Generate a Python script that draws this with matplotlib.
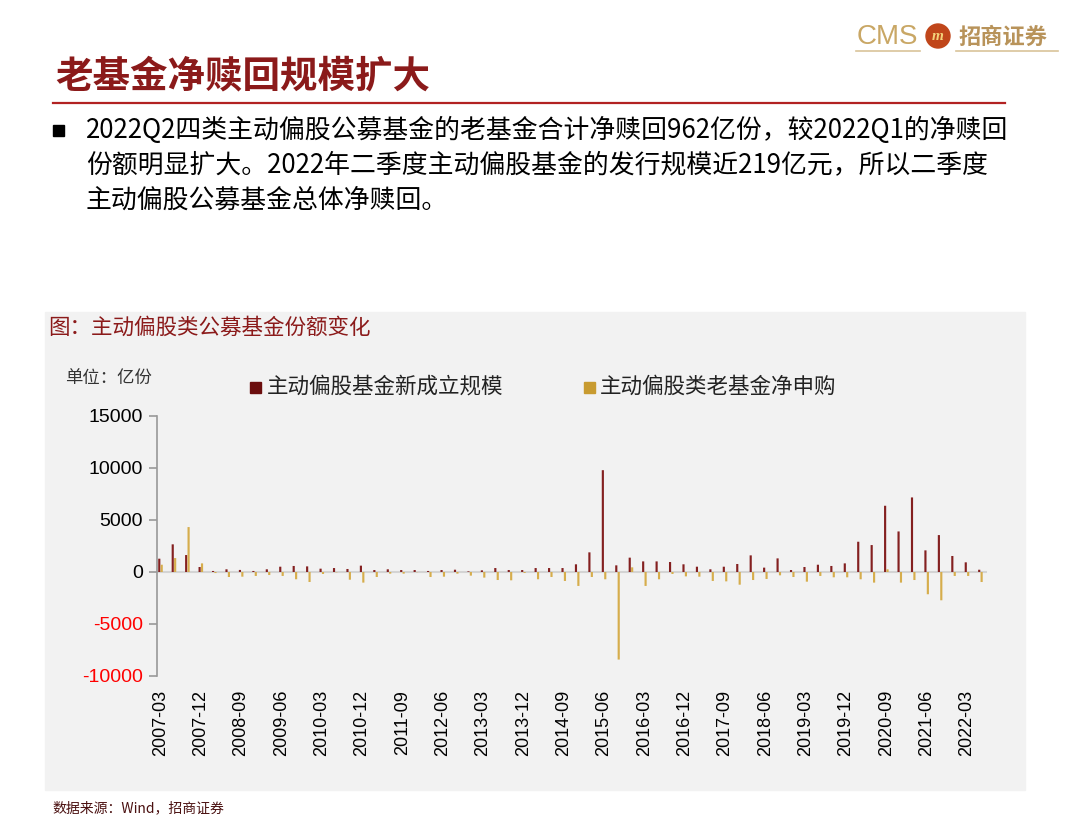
import matplotlib
matplotlib.use("Agg")
import matplotlib.pyplot as plt
from matplotlib.patches import Rectangle, Ellipse
from matplotlib.lines import Line2D
import numpy as np

plt.rcParams['font.family'] = ['Noto Sans CJK SC', 'DejaVu Sans']

# --------------------------------------------------
# Data (亿份), quarterly 2007-03 .. 2022-06
# --------------------------------------------------
quarters = [f"{y}-{m:02d}" for y in range(2007, 2023) for m in (3, 6, 9, 12)][:62]

new_fund = [1280, 2660, 1630, 480, 100, 260, 200, 100, 260, 510,
            580, 540, 320, 380, 290, 610, 190, 260, 190, 190,
            100, 190, 220, 60, 160, 380, 190, 190, 380, 380,
            380, 740, 1890, 9790, 640, 1380, 1020, 1020, 960, 740,
            510, 260, 510, 770, 1600, 420, 1310, 190, 480, 700,
            580, 830, 2910, 2590, 6370, 3900, 7170, 2080, 3550, 1540,
            930, 219]

old_fund = [700, 1340, 4320, 830, -100, -480, -450, -380, -290, -380,
            -700, -960, -190, -30, -740, -1020, -480, -160, -160, -20,
            -480, -450, -160, -350, -540, -770, -800, -90, -700, -480,
            -860, -1340, -480, -700, -8420, 450, -1340, -700, -190, -420,
            -450, -860, -900, -1220, -770, -670, -320, -480, -930, -380,
            -510, -510, -700, -1020, 260, -1020, -770, -2140, -2720, -380,
            -380, -962]

yticks = [-10000, -5000, 0, 5000, 10000, 15000]

RED = "#842020"
GOLD = "#d6ad4c"
TITLE_RED = "#8b1a1a"

fig = plt.figure(figsize=(10.8, 8.27), dpi=100)
W, H = 1080, 827


def fx(px):
    return px / W


def fy(py):
    return 1 - py / H


# --------------------------------------------------
# Header
# --------------------------------------------------
fig.text(fx(857), fy(37), "CMS", fontsize=20, color="#c9a765",
         family=["Liberation Sans Narrow", "Liberation Sans"], va="center", ha="left")
fig.add_artist(Ellipse((fx(938), fy(36)), 24 / W, 24 / H,
                       color="#c0461a", transform=fig.transFigure))
fig.text(fx(938), fy(37), "m", fontsize=11, color="#f3d27a", style="italic",
         fontweight="bold", family=["Liberation Serif"], va="center", ha="center")
fig.text(fx(958), fy(37), "招商证券", fontsize=16, color="#b8935a",
         fontweight="bold", va="center", ha="left")
fig.add_artist(Line2D([fx(856), fx(920)], [fy(51), fy(51)], color="#d9c49a", lw=1.2))
fig.add_artist(Line2D([fx(956), fx(1058)], [fy(51), fy(51)], color="#d9c49a", lw=1.2))

fig.text(fx(55), fy(76), "老基金净赎回规模扩大", fontsize=27, color=TITLE_RED,
         fontweight="bold", va="center", ha="left")
fig.add_artist(Line2D([fx(53), fx(1005)], [fy(103), fy(103)], color="#b22222", lw=1.6))

fig.add_artist(Rectangle((fx(53), fy(136)), 11 / W, 11 / H, color="black",
                         transform=fig.transFigure))
body = ["2022Q2四类主动偏股公募基金的老基金合计净赎回962亿份，较2022Q1的净赎回",
        "份额明显扩大。2022年二季度主动偏股基金的发行规模近219亿元，所以二季度",
        "主动偏股公募基金总体净赎回。"]
for i, line in enumerate(body):
    fig.text(fx(86), fy(130 + 35 * i), line, fontsize=18.6, color="black",
             va="center", ha="left")

# --------------------------------------------------
# Chart panel
# --------------------------------------------------
fig.add_artist(Rectangle((fx(45), fy(790)), 980 / W, 478 / H, color="#f2f2f2",
                         transform=fig.transFigure, zorder=0))
fig.text(fx(48), fy(328), "图：主动偏股类公募基金份额变化", fontsize=15.5,
         color=TITLE_RED, va="center", ha="left")
fig.text(fx(65), fy(378), "单位：亿份", fontsize=12.5, color="#333333",
         va="center", ha="left")

fig.add_artist(Rectangle((fx(250), fy(393)), 11 / W, 11 / H, color="#6b0d0d",
                         transform=fig.transFigure))
fig.text(fx(267), fy(387), "主动偏股基金新成立规模", fontsize=15.5,
         color="#222222", va="center", ha="left")
fig.add_artist(Rectangle((fx(584), fy(393)), 11 / W, 11 / H, color="#c89b30",
                         transform=fig.transFigure))
fig.text(fx(600), fy(387), "主动偏股类老基金净申购", fontsize=15.5,
         color="#222222", va="center", ha="left")

fig.text(fx(52), fy(808), "数据来源：Wind，招商证券", fontsize=10,
         color="#4a1010", va="center", ha="left")

# --------------------------------------------------
# Bars
# --------------------------------------------------
ax = fig.add_axes([fx(157), fy(676), 830 / W, 260 / H])
ax.patch.set_alpha(0)
x = np.arange(len(quarters))
ax.bar(x - 0.08, new_fund, width=0.16, color=RED, linewidth=0, zorder=3, snap=False)
ax.bar(x + 0.10, old_fund, width=0.16, color=GOLD, linewidth=0, zorder=3, snap=False)
ax.axhline(0, color="#d4d4d4", lw=1.5, zorder=2)

ax.set_xlim(-0.25, 61.5)
ax.set_ylim(-10000, 15000)
ax.set_yticks(yticks)
ax.set_yticklabels([str(v) for v in yticks], family=["Liberation Sans"], fontsize=14)
for lab, v in zip(ax.get_yticklabels(), yticks):
    lab.set_color("red" if v < 0 else "black")

ax.set_xticks(x[::3])
ax.set_xticklabels(quarters[::3], rotation=90, family=["Liberation Sans"], fontsize=13)
ax.tick_params(axis="x", length=0, pad=10)
ax.tick_params(axis="y", length=6, color="#999999", width=1.2, pad=4)

for s in ["top", "right", "bottom"]:
    ax.spines[s].set_visible(False)
ax.spines["left"].set_color("#999999")
ax.spines["left"].set_linewidth(1.2)

plt.savefig("out.png", dpi=100)
